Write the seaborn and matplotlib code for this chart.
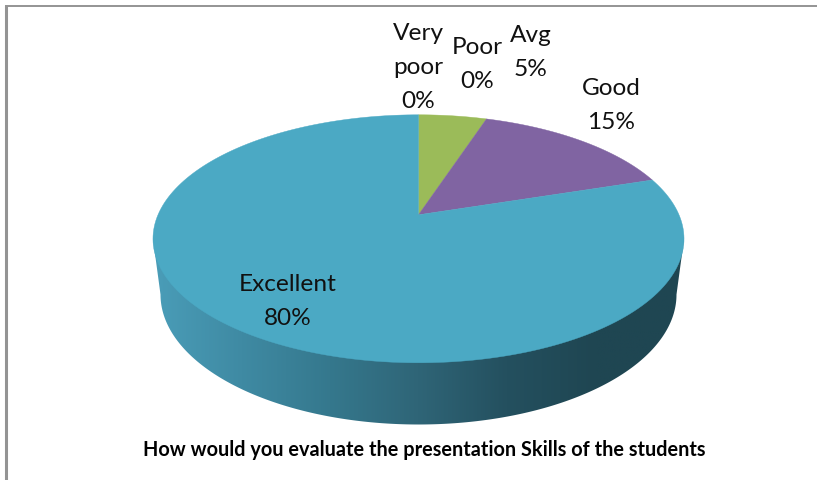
import numpy as np
import matplotlib
matplotlib.use("Agg")
import matplotlib.pyplot as plt
from matplotlib.patches import Polygon
import seaborn as sns

categories = ["Very\npoor", "Poor", "Avg", "Good", "Excellent"]
shares = [0, 0, 5, 15, 80]
slice_colors = ["#C0504D", "#4F81BD", "#9BBB59", "#8064A2", "#4BA9C4"]
title = "How would you evaluate the presentation Skills of the students"

sns.set_theme(style="white")
plt.rcParams["font.family"] = ["Lato", "DejaVu Sans"]

W, H = 817, 481
fig = plt.figure(figsize=(W / 100, H / 100), dpi=100)
ax = fig.add_axes([0, 0, 1, 1])
ax.set_xlim(0, W)
ax.set_ylim(H, 0)
ax.axis("off")

# pie geometry in pixels, tilted with a perspective so apex sits above ellipse centre
cx, apex_y = 418.5, 215.8
persp = 0.1935
a_y = 119.35
d_x = 260.5


def project(theta):
    u, v = np.sin(theta), np.cos(theta)
    w = 1 + persp * v
    return cx + d_x * u / w, apex_y - a_y * v / w


# side wall, darkest to the right
low_cy, low_rx, low_ry = 295.5, 258, 130
t = np.linspace(np.pi, 0, 300)
low_x = cx + low_rx * np.cos(t)
low_y = low_cy + low_ry * np.sin(t)
wall = np.column_stack([np.r_[153, low_x, 684], np.r_[240, low_y, 240]])
patch = Polygon(wall, closed=True, fc="none", ec="none", transform=ax.transData)
ax.add_patch(patch)
ramp = sns.blend_palette(["#4A9DB8", "#3F8AA3", "#35788D", "#2F6577", "#24505F", "#1F4652", "#1F4652"], 256, as_cmap=True)
im = ax.imshow(np.linspace(0, 1, 256).reshape(1, -1), cmap=ramp, extent=(153, 684, 430, 235), aspect="auto", zorder=1)
im.set_clip_path(patch)
ax.set_xlim(0, W)
ax.set_ylim(H, 0)

# top face, one wedge per share going clockwise from 12 o'clock
cum = 0
for share, col in zip(shares, slice_colors):
    if share == 0:
        continue
    th = np.linspace(cum, cum + share, 200) / 100 * 2 * np.pi
    x, y = project(th)
    ax.fill(np.r_[cx, x], np.r_[apex_y, y], color=col, lw=0.3, zorder=2)
    cum += share

label_pos = [(418, 67.5), (477, 64.5), (531, 52.5), (611, 105.5), (288, 301.5)]
for name, share, (lx, ly) in zip(categories, shares, label_pos):
    ax.text(lx, ly, f"{name}\n{share}%", ha="center", va="center", fontsize=17.6,
            color="#111111", linespacing=1.75, zorder=3)

ax.text(424, 450, title, ha="center", va="center", fontsize=14.3, fontweight="bold", color="black")

# outer frame of the pasted chart
ax.plot([6.5, 6.5], [5.5, H], color="#949494", lw=2.2, solid_capstyle="butt")
ax.plot([5, W], [6.5, 6.5], color="#949494", lw=1.4, solid_capstyle="butt")

fig.savefig("out.png", dpi=100)
